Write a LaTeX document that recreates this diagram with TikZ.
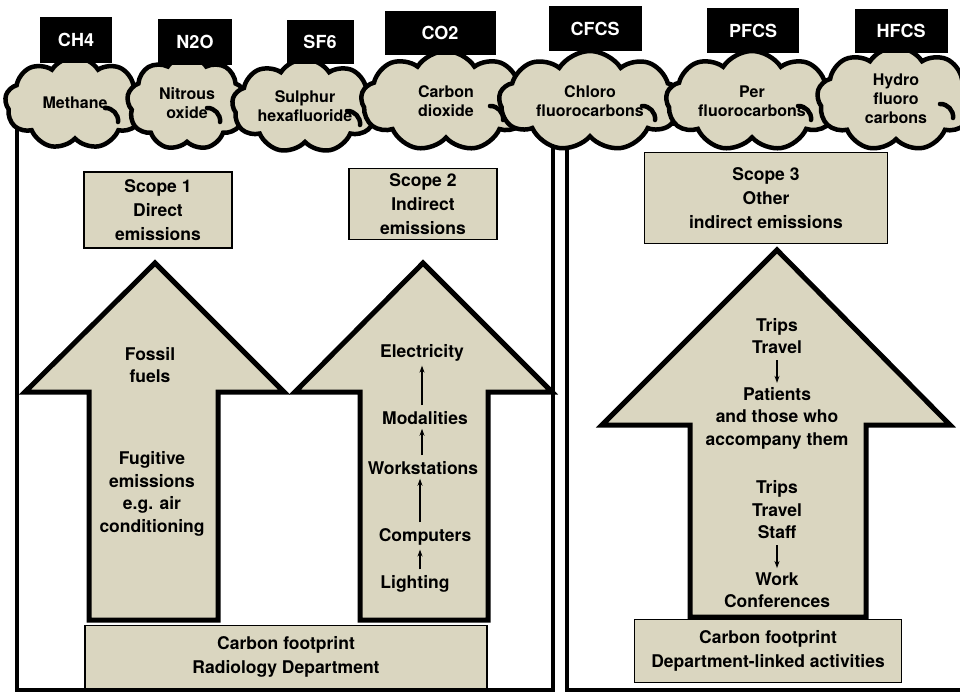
\documentclass[tikz,border=0pt]{standalone}
\usepackage{fontspec}
\setmainfont{TeX Gyre Heros}
\usetikzlibrary{shapes.symbols,arrows.meta}
\definecolor{beige}{RGB}{218,214,192}
\begin{document}
\begin{tikzpicture}[x=1pt,y=-1pt,
  every node/.style={align=center},
  gas/.style={fill=black, text=white, font=\fontsize{18}{20}\selectfont\bfseries, inner sep=0pt},
  puff/.style={cloud, cloud puffs=9, cloud puff arc=115, cloud ignores aspect, draw=black, line width=4.5pt, fill=beige, inner sep=0pt, font=\fontsize{16}{19}\selectfont\bfseries},
  scopebox/.style={draw=black, line width=1.5pt, fill=beige, inner sep=0pt, font=\fontsize{17.5}{24}\selectfont\bfseries},
  bigarrow/.style={draw=black, line width=5pt, fill=beige, line join=miter},
  frame/.style={draw=black, line width=3.5pt},
  lbl/.style={font=\fontsize{17.5}{22.5}\selectfont\bfseries, inner sep=1pt},
  small/.style={-{Stealth[length=7pt,width=5pt]}, line width=1.2pt, shorten <=5pt, shorten >=3pt},
  curl/.style={line width=4.5pt, line cap=round}
]
\useasboundingbox (0,0) rectangle (960,693);
\fill[white] (0,0) rectangle (960,693);

% frames
\draw[frame] (17,124) rectangle (553,690);
\draw[frame] (567,124) rectangle (970,690);

% clouds
\node[puff, minimum width=140pt, minimum height=92pt] (methane) at (75,103) {Methane};
\node[puff, minimum width=120pt, minimum height=94pt] (nitrous) at (187,103) {Nitrous\\oxide};
\node[puff, minimum width=146pt, minimum height=94pt] (sulphur) at (305,106) {Sulphur\\hexafluoride};
\node[puff, minimum width=170pt, minimum height=100pt] (carbon) at (446,101) {Carbon\\dioxide};
\node[puff, minimum width=182pt, minimum height=100pt] (chloro) at (590,101) {Chloro\\fluorocarbons};
\node[puff, minimum width=172pt, minimum height=100pt] (per) at (752,101) {Per\\fluorocarbons};
\node[puff, minimum width=158pt, minimum height=104pt] (hydro) at (896,99) {Hydro\\fluoro\\carbons};

% curls inside the clouds
\foreach \c/\dx in {methane/30, nitrous/20, sulphur/42, carbon/44, chloro/52, per/46, hydro/44}{
  \draw[curl] ([shift={(\dx,5)}]\c.center) to[bend left=50] ([shift={(\dx+13,19)}]\c.center);
}

% gas labels
\node[gas, minimum width=72pt, minimum height=45pt] (ch4) at (76,40) {CH4};
\node[gas, minimum width=74pt, minimum height=45pt] (n2o) at (195,42) {N2O};
\node[gas, minimum width=67pt, minimum height=44pt] (sf6) at (320,42) {SF6};
\node[gas, minimum width=111pt, minimum height=44pt] (co2) at (440,33) {CO2};
\node[gas, minimum width=93pt, minimum height=45pt] (cfcs) at (595,29) {CFCS};
\node[gas, minimum width=92pt, minimum height=45pt] (pfcs) at (753,31) {PFCS};
\node[gas, minimum width=93pt, minimum height=44pt] (hfcs) at (901,31) {HFCS};

% scope boxes
\node[scopebox, minimum width=148pt, minimum height=76pt] (s1) at (158,210) {Scope 1\\Direct\\emissions};
\node[scopebox, minimum width=148pt, minimum height=71pt] (s2) at (423,204) {Scope 2\\Indirect\\emissions};
\node[scopebox, minimum width=243pt, minimum height=91pt] (s3) at (766,198) {Scope 3\\Other\\indirect emissions};

% big arrows
\draw[bigarrow] (155,263) -- (284,392) -- (218,392) -- (218,620) -- (89,620) -- (89,392) -- (25,392) -- cycle;
\draw[bigarrow] (423,263) -- (552,392) -- (488,392) -- (488,620) -- (360,620) -- (360,392) -- (295,392) -- cycle;
\draw[bigarrow] (777,250) -- (950,425) -- (866,425) -- (866,617) -- (690,617) -- (690,425) -- (602,425) -- cycle;

% bottom boxes
\node[scopebox, minimum width=402pt, minimum height=63pt] (rad) at (286,657) {Carbon footprint\\Radiology Department};
\node[scopebox, minimum width=267pt, minimum height=63pt] (dep) at (768,651) {Carbon footprint\\Department-linked activities};

% scope 1 texts
\node[lbl] (fossil) at (150,365) {Fossil\\fuels};
\node[lbl] (fugitive) at (152,494) {Fugitive\\emissions\\e.g. air\\conditioning};

% scope 2 texts
\node[lbl] (elec) at (422,353) {Electricity};
\node[lbl] (mod) at (425,418) {Modalities};
\node[lbl] (work) at (423,468) {Workstations};
\node[lbl] (comp) at (425,537) {Computers};
\node[lbl] (light) at (415,584) {Lighting};
\draw[small] (mod.north -| elec.south) -- (elec.south);
\draw[small] (work.north -| elec.south) -- (mod.south -| elec.south);
\draw[small] (comp.north -| 420,0) -- (work.south -| 420,0);
\draw[small] (light.north -| 420,0) -- (comp.south -| 420,0);

% scope 3 texts
\node[lbl] (trips1) at (777,336) {Trips\\Travel};
\node[lbl] (patients) at (777,418) {Patients\\and those who\\accompany them};
\node[lbl] (trips2) at (777,510) {Trips\\Travel\\Staff};
\node[lbl] (conf) at (777,590) {Work\\Conferences};
\draw[small] (trips1.south) -- (patients.north);
\draw[small] (trips2.south) -- (conf.north);
\end{tikzpicture}
\end{document}
